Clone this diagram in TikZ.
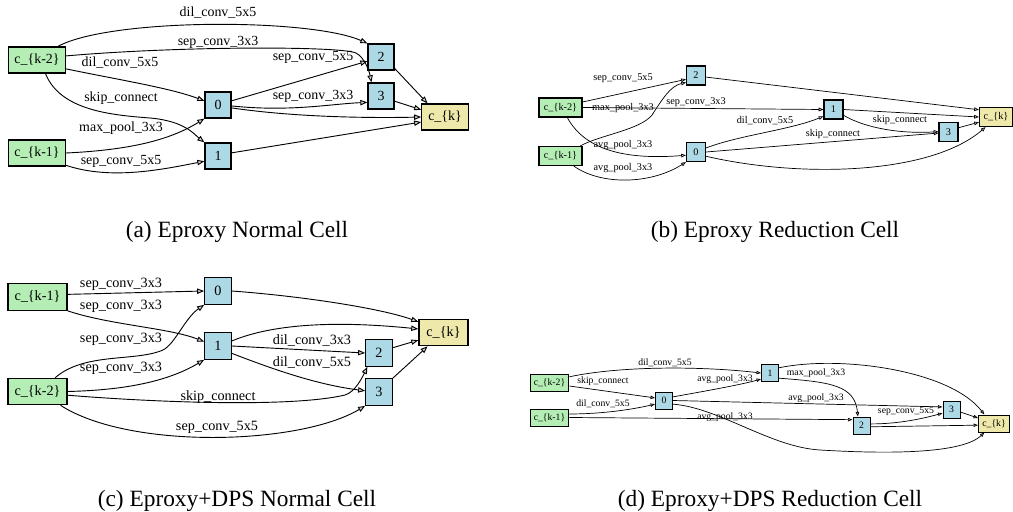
\documentclass[tikz,border=0pt]{standalone}
\usepackage{fontspec}
\setmainfont{Liberation Serif}
\usetikzlibrary{arrows.meta}

\definecolor{prevcell}{RGB}{180,238,180}
\definecolor{midnode}{RGB}{173,216,230}
\definecolor{outcell}{RGB}{238,232,170}

\tikzset{
  cell/.style={draw, inner sep=0pt, line width=\boxlw, minimum height=\boxh},
  inp/.style={cell, fill=prevcell, minimum width=\inw},
  mid/.style={cell, fill=midnode, minimum width=\boxh},
  outp/.style={cell, fill=outcell, minimum width=\outw},
  lbl/.style={inner sep=0pt},
  op/.style={line width=\oplw, -{Triangle[length=\tipl, width=\tipw, fill=gray!35]}},
  capt/.style={anchor=base, font=\fontsize{16.6}{19}\selectfont},
}
% box height, input width, output width, box line, edge line, tip length, tip width
\newcommand\cellsizes[7]{\def\boxh{#1}\def\inw{#2}\def\outw{#3}%
  \def\boxlw{#4}\def\oplw{#5}\def\tipl{#6}\def\tipw{#7}}

\begin{document}
\begin{tikzpicture}[x=0.025cm, y=-0.025cm]
  \useasboundingbox (0,0) rectangle (1013,512);

  % normal cell
  \begin{scope}[font=\fontsize{9.9}{11}\selectfont]
    \cellsizes{18.5pt}{40.5pt}{33pt}{0.9pt}{0.65pt}{5pt}{3.8pt}
    \node[inp] (ak2) at (37,60) {c\_\{k-2\}};
    \node[inp] (ak1) at (37,153) {c\_\{k-1\}};
    \node[mid] (a0) at (218,105) {0};
    \node[mid] (a1) at (218,156) {1};
    \node[mid] (a2) at (381,57) {2};
    \node[mid] (a3) at (381,96) {3};
    \node[outp] (ack) at (445,117) {c\_\{k\}};
    \draw[op] (ak2.33) .. controls (110,18) and (310,18) .. (a2.north west)
      node[lbl] (al1) at (218,13) {dil\_conv\_5x5};
    \draw[op] (ak2.8) .. controls (180,46) and (340,46) .. (356,53) .. controls (364,57) and (369,70) .. (a3.125)
      node[lbl] (al2) at (218,42) {sep\_conv\_3x3};
    \draw[op] (ak2.-17) .. controls (120,80) and (170,88) .. (a0.163)
      node[lbl] (al3) at (120,63) {dil\_conv\_5x5};
    \draw[op] (ak2.-58) .. controls (60,110) and (110,115) .. (150,118) .. controls (185,121) and (195,135) .. (a1.north west)
      node[lbl] (al4) at (121,98) {skip\_connect};
    \draw[op] (ak1.east) .. controls (130,150) and (170,140) .. (a0.south west)
      node[lbl] (al5) at (121,128) {max\_pool\_3x3};
    \draw[op] (ak1.-23) .. controls (110,180) and (160,170) .. (a1.201)
      node[lbl] (al6) at (121,161) {sep\_conv\_5x5};
    \draw[op] (a0.17) -- (a2.197) node[lbl] (al7) at (313,57) {sep\_conv\_5x5};
    \draw[op] (a0.-4) .. controls (290,112) and (330,104) .. (a3.205)
      node[lbl] (al8) at (313,96) {sep\_conv\_3x3};
    \draw[op] (a0.-12) .. controls (300,118) and (380,118) .. (ack.west);
    \draw[op] (a1.13) -- (ack.192);
    \draw[op] (a2.-40) -- (ack.142);
    \draw[op] (a3.-21) -- (ack.163);
    \node[capt] (acap) at (237,237.5) {(a) Eproxy Normal Cell};
  \end{scope}

  % reduction cell
  \begin{scope}[font=\fontsize{7.3}{8.5}\selectfont]
    \cellsizes{13.5pt}{30.6pt}{23.5pt}{0.75pt}{0.5pt}{3.4pt}{2.6pt}
    \node[inp] (bk2) at (560.5,107.5) {c\_\{k-2\}};
    \node[inp] (bk1) at (560.5,156) {c\_\{k-1\}};
    \node[mid] (b2) at (696,75.5) {2};
    \node[mid] (b1) at (833.5,109.5) {1};
    \node[mid] (b0) at (696,152) {0};
    \node[mid] (b3) at (948.5,132) {3};
    \node[outp] (bck) at (996,117) {c\_\{k\}};
    \draw[op] (bk2.14) -- (b2.201) node[lbl] (bl1) at (623,78) {sep\_conv\_5x5};
    \draw[op] (bk2.east) -- (b1.west) node[lbl] (bl2) at (623,108) {max\_pool\_3x3};
    \draw[op] (bk1.27) .. controls (600,135) and (640,130) .. (652,115) .. controls (662,100) and (670,86) .. (b2.215)
      node[lbl] (bl3) at (696,102) {sep\_conv\_3x3};
    \draw[op] (bk2.-56) .. controls (585,150) and (625,160) .. (b0.198)
      node[lbl] (bl4) at (623,145) {avg\_pool\_3x3};
    \draw[op] (bk1.-37) .. controls (600,185) and (650,185) .. (b0.south west)
      node[lbl] (bl5) at (623,168) {avg\_pool\_3x3};
    \draw[op] (b0.22) .. controls (740,135) and (790,130) .. (b1.214)
      node[lbl] (bl6) at (765,121) {dil\_conv\_5x5};
    \draw[op] (b0.east) -- (b3.186) node[lbl] (bl7) at (833,134) {skip\_connect};
    \draw[op] (b0.-23) .. controls (800,178) and (930,175) .. (bck.224);
    \draw[op] (b1.east) -- (bck.west);
    \draw[op] (b1.-30) .. controls (865,128) and (900,134) .. (b3.178)
      node[lbl] (bl8) at (900,120) {skip\_connect};
    \draw[op] (b2.-9) -- (bck.157);
    \draw[op] (b3.23) -- (bck.197);
    \node[capt] (bcap) at (775,237.5) {(b) Eproxy Reduction Cell};
  \end{scope}

  % normal cell, with DPS
  \begin{scope}[font=\fontsize{10.1}{11.5}\selectfont]
    \cellsizes{18.8pt}{42pt}{35pt}{0.9pt}{0.65pt}{5pt}{3.8pt}
    \node[inp] (ck1) at (37.5,297) {c\_\{k-1\}};
    \node[inp] (ck2) at (37.5,391.5) {c\_\{k-2\}};
    \node[mid] (c0) at (218,291) {0};
    \node[mid] (c1) at (218,346) {1};
    \node[mid] (c2) at (379,353) {2};
    \node[mid] (c3) at (379,392) {3};
    \node[outp] (cck) at (443.5,332.5) {c\_\{k\}};
    \draw[op] (ck1.5) -- (c0.west) node[lbl] (cl1) at (121,284) {sep\_conv\_3x3};
    \draw[op] (ck1.south east) .. controls (110,325) and (170,328) .. (c1.163)
      node[lbl] (cl2) at (121,306) {sep\_conv\_3x3};
    \draw[op] (ck2.38) .. controls (85,352) and (135,362) .. (163,350) .. controls (175,344) and (185,318) .. (c0.south west)
      node[lbl] (cl3) at (121,339) {sep\_conv\_3x3};
    \draw[op] (ck2.east) .. controls (130,390) and (170,380) .. (c1.south west)
      node[lbl] (cl4) at (121,368) {sep\_conv\_3x3};
    \draw[op] (ck2.-7) .. controls (150,402) and (290,408) .. (345,395) .. controls (355,392) and (362,378) .. (c2.230)
      node[lbl] (cl5) at (218,397) {skip\_connect};
    \draw[op] (ck2.-31) .. controls (130,450) and (300,445) .. (c3.south west)
      node[lbl] (cl6) at (217,427) {sep\_conv\_5x5};
    \draw[op] (c0.east) .. controls (300,296) and (380,308) .. (cck.157);
    \draw[op] (c1.20) .. controls (270,325) and (330,320) .. (cck.172);
    \draw[op] (c1.east) -- (c2.west) node[lbl] (cl7) at (312,340) {dil\_conv\_3x3};
    \draw[op] (c1.-28) .. controls (280,372) and (320,385) .. (c3.175)
      node[lbl] (cl8) at (312,362) {dil\_conv\_5x5};
    \draw[op] (c2.21) -- (cck.197);
    \draw[op] (c3.north east) -- (cck.221);
    \node[capt] (ccap) at (237,506.5) {(c) Eproxy+DPS Normal Cell};
  \end{scope}

  % reduction cell, with DPS
  \begin{scope}[font=\fontsize{6.9}{8}\selectfont]
    \cellsizes{12.1pt}{27.7pt}{22pt}{0.7pt}{0.5pt}{3.2pt}{2.4pt}
    \node[inp] (dk2) at (549.5,382.5) {c\_\{k-2\}};
    \node[inp] (dk1) at (549.5,417.5) {c\_\{k-1\}};
    \node[mid] (d0) at (664,400.5) {0};
    \node[mid] (d1) at (770,373) {1};
    \node[mid] (d2) at (861.5,425.5) {2};
    \node[mid] (d3) at (951.5,409.5) {3};
    \node[outp] (dck) at (994,423.5) {c\_\{k\}};
    \draw[op] (dk2.16) .. controls (620,366) and (700,366) .. (d1.west)
      node[lbl] (dl1) at (665,363) {dil\_conv\_5x5};
    \draw[op] (dk2.-10) -- (d0.164) node[lbl] (dl2) at (603,381) {skip\_connect};
    \draw[op] (dk1.10) .. controls (600,414) and (630,410) .. (d0.202)
      node[lbl] (dl3) at (603,404) {dil\_conv\_5x5};
    \draw[op] (dk1.east) -- (d2.147) node[lbl] (dl4) at (725,417) {avg\_pool\_3x3};
    \draw[op] (d0.22) .. controls (700,392) and (740,385) .. (d1.214)
      node[lbl] (dl5) at (725,379) {avg\_pool\_3x3};
    \draw[op] (d0.east) -- (d3.164) node[lbl] (dl6) at (816,398) {avg\_pool\_3x3};
    \draw[op] (d0.-22) .. controls (720,408) and (770,447) .. (820,450) .. controls (870,453) and (960,456) .. (dck.223);
    \draw[op] (d1.-30) .. controls (830,382) and (855,385) .. (d2.112)
      node[lbl] (dl7) at (816,373) {max\_pool\_3x3};
    \draw[op] (d1.30) .. controls (840,355) and (950,370) .. (dck.137);
    \draw[op] (d2.10) .. controls (900,424) and (925,418) .. (d3.202)
      node[lbl] (dl8) at (906,411) {sep\_conv\_5x5};
    \draw[op] (d2.-8) -- (dck.186);
    \draw[op] (d3.-16) -- (dck.161);
    \node[capt] (dcap) at (770,506.5) {(d) Eproxy+DPS Reduction Cell};
  \end{scope}
\end{tikzpicture}
\end{document}
